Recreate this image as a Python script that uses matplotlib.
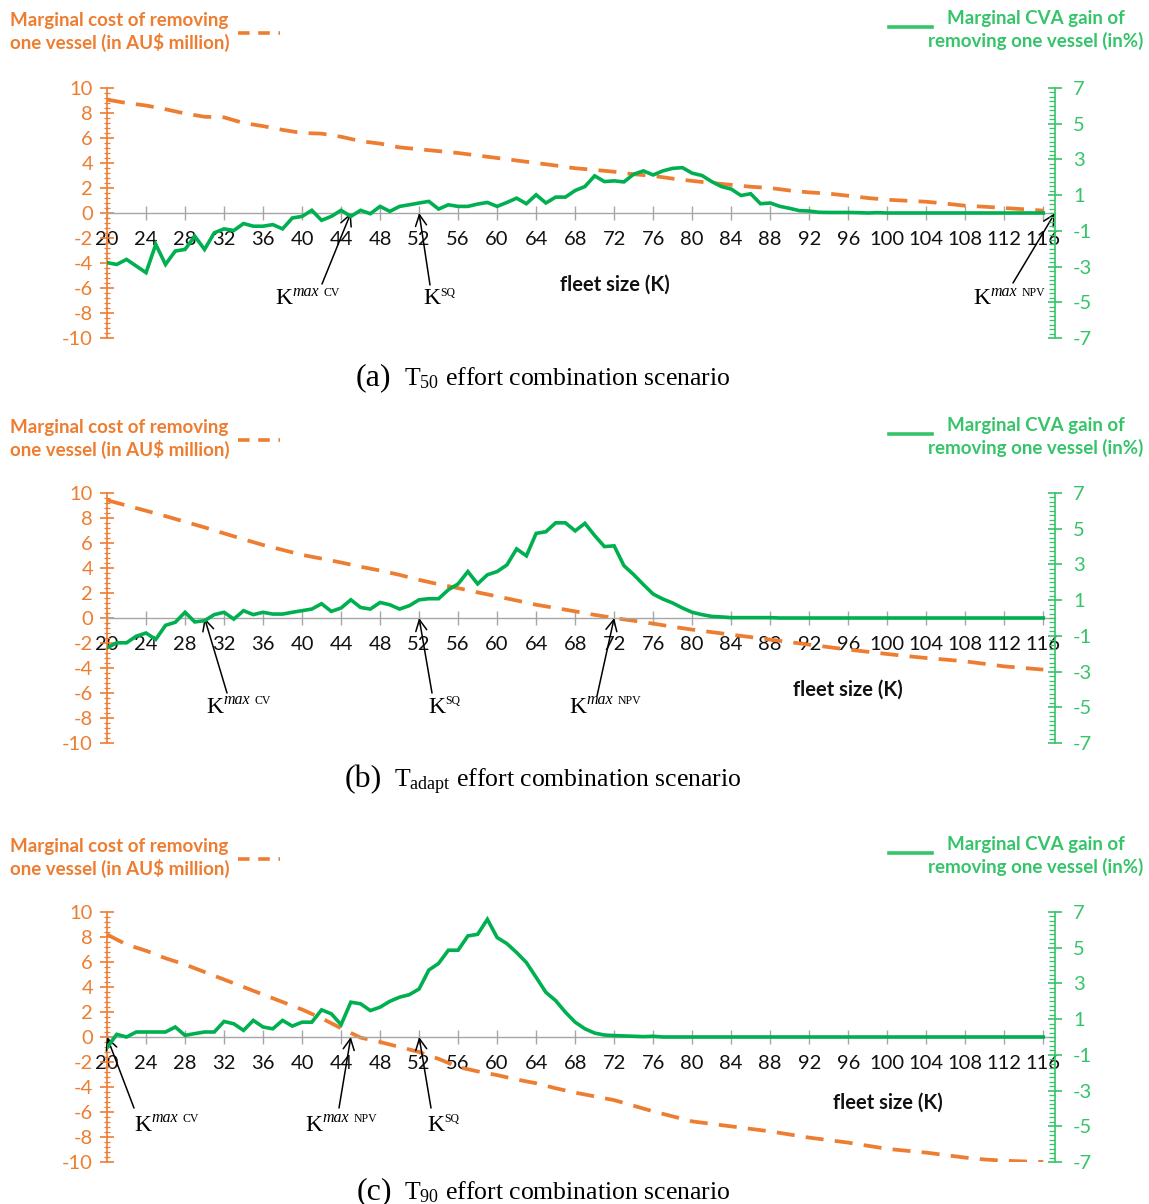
import matplotlib
matplotlib.use('Agg')
import matplotlib.pyplot as plt
from matplotlib.ticker import MultipleLocator

plt.rcParams['font.family'] = ['Lato', 'DejaVu Sans']
plt.rcParams['axes.unicode_minus'] = False
plt.rcParams['mathtext.fontset'] = 'custom'
plt.rcParams['mathtext.rm'] = 'Liberation Serif'
plt.rcParams['mathtext.it'] = 'Liberation Serif:italic'

# ---------------- data ----------------
fleet_size = list(range(20, 117))
x_ticks = list(range(20, 117, 4))
cost_x = list(range(20, 117, 2))

cost_a = [9.07, 8.8, 8.6, 8.3, 7.96, 7.7, 7.65, 7.2, 6.95, 6.65, 6.4, 6.35, 6.1, 5.75, 5.55,
          5.25, 5.1, 4.95, 4.8, 4.6, 4.4, 4.2, 4.0, 3.8, 3.58, 3.45, 3.3, 3.1, 2.97, 2.75,
          2.57, 2.4, 2.25, 2.1, 2.0, 1.8, 1.65, 1.55, 1.38, 1.2, 1.06, 0.98, 0.9, 0.75, 0.58,
          0.5, 0.4, 0.3, 0.19]
cost_b = [9.43, 9.0, 8.58, 8.15, 7.7, 7.25, 6.77, 6.3, 5.84, 5.45, 5.05, 4.75, 4.44, 4.1, 3.8,
          3.45, 3.05, 2.7, 2.39, 2.05, 1.73, 1.4, 1.06, 0.8, 0.53, 0.25, 0.0, -0.22, -0.45, -0.7,
          -0.93, -1.13, -1.33, -1.53, -1.73, -1.93, -2.13, -2.33, -2.53, -2.7, -2.88, -3.05, -3.2,
          -3.33, -3.47, -3.67, -3.87, -4.0, -4.13]
cost_c = [8.2, 7.4, 6.9, 6.3, 5.8, 5.2, 4.6, 4.0, 3.4, 2.8, 2.2, 1.5, 0.7, -0.05, -0.4,
          -0.8, -1.2, -1.75, -2.4, -2.75, -3.05, -3.4, -3.7, -4.1, -4.45, -4.75, -5.05, -5.5,
          -5.95, -6.35, -6.75, -6.95, -7.15, -7.35, -7.55, -7.8, -8.05, -8.25, -8.45, -8.7,
          -8.95, -9.1, -9.25, -9.45, -9.65, -9.8, -9.9, -9.95, -10.0]

cva_a = [-2.78, -2.88, -2.6, -2.97, -3.34, -1.76, -2.88, -2.13, -2.04, -1.3,
         -2.04, -1.11, -0.89, -0.98, -0.59, -0.74, -0.74, -0.65, -0.89, -0.28,
         -0.19, 0.15, -0.41, -0.19, 0.15, -0.19, 0.15, -0.04, 0.37, 0.09,
         0.37, 0.46, 0.56, 0.65, 0.22, 0.46, 0.37, 0.37, 0.5, 0.59,
         0.37, 0.59, 0.83, 0.52, 1.02, 0.56, 0.89, 0.89, 1.26, 1.48,
         2.08, 1.76, 1.8, 1.74, 2.17, 2.36, 2.13, 2.36, 2.5, 2.54,
         2.23, 2.1, 1.76, 1.48, 1.34, 0.98, 1.08, 0.52, 0.56, 0.37,
         0.26, 0.13, 0.11, 0.04, 0.03, 0.03, 0.03, 0.02, 0.0, 0.02,
         0, 0, 0, 0, 0, 0, 0, 0, 0, 0, 0, 0, 0, 0, 0, 0, 0]
cva_b = [-1.67, -1.39, -1.39, -1.02, -0.84, -1.2, -0.41, -0.24, 0.32, -0.22,
         -0.15, 0.19, 0.32, -0.06, 0.41, 0.19, 0.32, 0.22, 0.22, 0.32,
         0.41, 0.5, 0.8, 0.37, 0.56, 1.02, 0.59, 0.5, 0.87, 0.74,
         0.5, 0.69, 1.02, 1.08, 1.08, 1.58, 1.91, 2.6, 1.91, 2.42,
         2.6, 2.97, 3.87, 3.48, 4.74, 4.83, 5.33, 5.33, 4.88, 5.3,
         4.62, 4.0, 4.04, 2.93, 2.43, 1.87, 1.34, 1.06, 0.84, 0.56,
         0.32, 0.19, 0.09, 0.06, 0.02, 0.02, 0.02, 0.02, 0.02,
         0, 0, 0, 0, 0, 0, 0, 0, 0, 0, 0, 0, 0, 0, 0, 0, 0, 0, 0, 0, 0, 0, 0, 0, 0, 0, 0, 0]
cva_c = [-0.6, 0.15, 0.0, 0.28, 0.28, 0.28, 0.28, 0.56, 0.09, 0.19,
         0.28, 0.28, 0.87, 0.74, 0.37, 0.93, 0.56, 0.46, 0.93, 0.61,
         0.83, 0.83, 1.52, 1.3, 0.69, 1.95, 1.86, 1.48, 1.67, 2.0,
         2.23, 2.37, 2.69, 3.75, 4.12, 4.86, 4.86, 5.66, 5.75, 6.59,
         5.57, 5.23, 4.73, 4.17, 3.34, 2.5, 2.04, 1.39, 0.83, 0.46,
         0.22, 0.11, 0.08, 0.06, 0.04, 0.02, 0.04,
         0, 0, 0, 0, 0, 0, 0, 0, 0, 0, 0, 0, 0, 0, 0, 0, 0, 0, 0, 0,
         0, 0, 0, 0, 0, 0, 0, 0, 0, 0, 0, 0, 0, 0, 0, 0, 0, 0, 0, 0]

scenario_letters = ['a', 'b', 'c']
scenario_subs = ['50', 'adapt', '90']
# K markers: (name, K value on the fleet-size axis)
k_marks_a = [('CV', 45), ('SQ', 52), ('NPV', 117.2)]
k_marks_b = [('CV', 30), ('SQ', 52), ('NPV', 72)]
k_marks_c = [('CV', 20), ('NPV', 45), ('SQ', 52)]

legend_cost = 'Marginal cost of removing\none vessel (in AU$ million)'
legend_cva = 'Marginal CVA gain of\nremoving one vessel (in%)'

# ---------------- styling / layout ----------------
W, H = 1149, 1204
fig = plt.figure(figsize=(W / 100, H / 100), dpi=100)
ORANGE = '#ED7D31'
GREEN = '#00B050'
GREEN_AX = '#36C46A'
GREY = '#A6A6A6'
SERIF = 'Liberation Serif'
DASH = (4.8, 3.0)


def fx(x):
    return x / W


def fy(y):
    return 1 - y / H


renderer = fig.canvas.get_renderer()


def k_label(x_px, base_px, kind):
    tK = fig.text(fx(x_px), fy(base_px), 'K', fontsize=17, family=SERIF,
                  ha='left', va='baseline')
    bb = tK.get_window_extent(renderer)
    x = bb.x1 + 0.5
    ysup = (H - base_px) + 8.5
    if kind in ('CV', 'NPV'):
        t1 = fig.text(x / W, ysup / H, 'max', fontsize=11.5, style='italic', family=SERIF,
                      ha='left', va='baseline')
        x = t1.get_window_extent(renderer).x1 + 4
    fig.text(x / W, ysup / H, kind, fontsize=8.5, family=SERIF, ha='left', va='baseline')


def caption(x_px, base_px, letter, sub):
    t = fig.text(fx(x_px), fy(base_px), f'({letter})', fontsize=23, family=SERIF,
                 ha='left', va='baseline')
    x = t.get_window_extent(renderer).x1 + 12
    fig.text(x / W, fy(base_px), r'T$_{\mathrm{' + sub + r'}}$ effort combination scenario',
             fontsize=18.5, family=SERIF, ha='left', va='baseline')


panel_tops = [88, 493, 912]
panel_bottoms = [338, 743, 1162]
legend_y = [32, 439, 858]
caption_pos = [(356, 385), (345, 787), (357, 1199)]
fleet_label_pos = [(615, 285), (848, 690), (888, 1103)]
k_tail = [[(322, 284), (430, 285), (1013, 283)],
          [(227, 693), (432, 693), (597, 696)],
          [(134, 1108), (339, 1108), (431, 1108)]]
k_text = [[(275, 304), (423, 304), (973, 304)],
          [(206, 713), (428, 713), (569, 713)],
          [(134, 1131), (305, 1131), (427, 1131)]]

costs = [cost_a, cost_b, cost_c]
cvas = [cva_a, cva_b, cva_c]
kmarks = [k_marks_a, k_marks_b, k_marks_c]

for i in range(3):
    top, bot = panel_tops[i], panel_bottoms[i]
    ax = fig.add_axes([fx(107), fy(bot), 948 / W, (bot - top) / H])
    ax.set_xlim(20, 117.2)
    ax.set_ylim(-10, 10)
    ax.patch.set_alpha(0)
    for s in ('top', 'right'):
        ax.spines[s].set_visible(False)
    ax.spines['bottom'].set_position(('data', 0))
    ax.spines['bottom'].set_color(GREY)
    ax.spines['bottom'].set_linewidth(1.0)
    ax.spines['left'].set_color(ORANGE)
    ax.spines['left'].set_linewidth(1.2)
    ax.set_xticks(x_ticks)
    ax.tick_params(axis='x', direction='inout', length=10, width=1.0, color=GREY,
                   labelsize=14.5, pad=8, labelcolor='#111111')
    ax.set_yticks(list(range(-10, 11, 2)))
    ax.yaxis.set_minor_locator(MultipleLocator(0.4))
    ax.tick_params(axis='y', which='major', direction='inout', length=10, width=1.2,
                   color=ORANGE, labelcolor=ORANGE, labelsize=14.5, pad=5)
    ax.tick_params(axis='y', which='minor', direction='inout', length=4, width=0.9,
                   color=ORANGE)
    ax.plot(cost_x, costs[i], color=ORANGE, lw=2.7, dashes=DASH, solid_capstyle='butt')

    ax2 = ax.twinx()
    ax2.set_ylim(-7, 7)
    for s in ('top', 'left', 'bottom'):
        ax2.spines[s].set_visible(False)
    ax2.spines['right'].set_color(GREEN_AX)
    ax2.spines['right'].set_linewidth(1.2)
    ax2.set_yticks(list(range(-7, 8, 2)))
    ax2.yaxis.set_minor_locator(MultipleLocator(0.25))
    ax2.tick_params(axis='y', which='major', direction='inout', length=10, width=1.2,
                    color=GREEN_AX, labelcolor=GREEN_AX, labelsize=14.5, pad=8)
    ax2.tick_params(axis='y', which='minor', direction='in', length=4, width=0.9,
                    color=GREEN_AX)
    ax2.plot(fleet_size, cvas[i], color=GREEN, lw=2.6, solid_joinstyle='miter')

    # fleet size label
    fxl, fyl = fleet_label_pos[i]
    fig.text(fx(fxl), fy(fyl), 'fleet size (K)', fontsize=14.5, fontweight='bold',
             color='#111111', ha='center', va='center')

    # K annotations
    for j, (kind, kval) in enumerate(kmarks[i]):
        tx, ty = k_tail[i][j]
        ax.annotate('', xy=(kval, 0), xycoords='data',
                    xytext=(fx(tx), fy(ty)), textcoords='figure fraction',
                    arrowprops=dict(arrowstyle='->,head_length=0.8,head_width=0.4',
                                    color='black', lw=1.1, shrinkA=0, shrinkB=0))
        kx, ky = k_text[i][j]
        k_label(kx, ky, kind)

    # legends
    ly = legend_y[i]
    fig.text(fx(10), fy(ly), legend_cost, fontsize=13.5, fontweight='bold',
             color=ORANGE, ha='left', va='center', linespacing=1.3, parse_math=False)
    fig.add_artist(plt.Line2D([fx(238), fx(280)], [fy(ly + 1), fy(ly + 1)], color=ORANGE,
                              lw=2.6, dashes=(3.2, 2.4)))
    fig.text(fx(1036), fy(ly - 2), legend_cva, fontsize=13.5, fontweight='bold',
             color=GREEN_AX, ha='center', va='center', linespacing=1.3)
    fig.add_artist(plt.Line2D([fx(889), fx(932)], [fy(ly - 5), fy(ly - 5)], color=GREEN_AX,
                              lw=2.6))

    cx, cy = caption_pos[i]
    caption(cx, cy, scenario_letters[i], scenario_subs[i])

fig.savefig('out.png', dpi=100)
